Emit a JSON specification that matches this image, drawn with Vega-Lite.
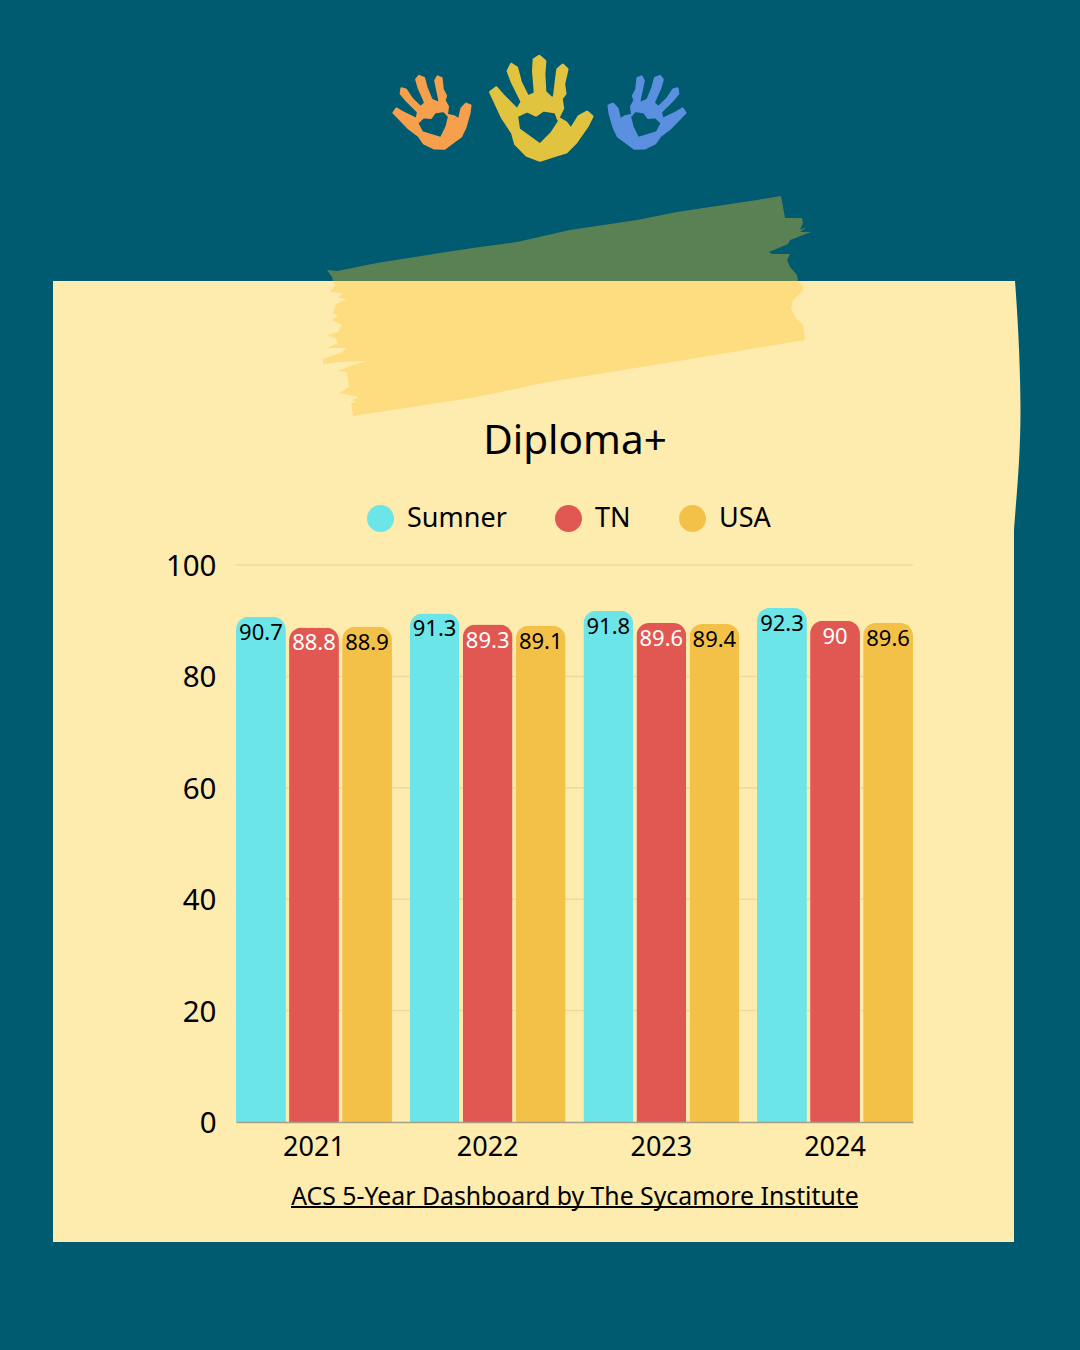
{
  "$schema": "https://vega.github.io/schema/vega-lite/v6.json",
  "width": 677,
  "height": 557,
  "autosize": "none",
  "padding": {"left": 236, "top": 565, "right": 167, "bottom": 228},
  "background": "#005B70",
  "config": {
    "font": "Noto Sans",
    "view": {"stroke": null}
  },
  "datasets": {
    "rates": [
      {"year": "2021", "area": "Sumner", "rate": 90.7},
      {"year": "2021", "area": "TN", "rate": 88.8},
      {"year": "2021", "area": "USA", "rate": 88.9},
      {"year": "2022", "area": "Sumner", "rate": 91.3},
      {"year": "2022", "area": "TN", "rate": 89.3},
      {"year": "2022", "area": "USA", "rate": 89.1},
      {"year": "2023", "area": "Sumner", "rate": 91.8},
      {"year": "2023", "area": "TN", "rate": 89.6},
      {"year": "2023", "area": "USA", "rate": 89.4},
      {"year": "2024", "area": "Sumner", "rate": 92.3},
      {"year": "2024", "area": "TN", "rate": 90},
      {"year": "2024", "area": "USA", "rate": 89.6}
    ],
    "gridlines": [{"tick": 20}, {"tick": 40}, {"tick": 60}, {"tick": 80}, {"tick": 100}],
    "decor": [
      {"part": "page", "across": 0, "down": 0},
      {"part": "orange hand", "across": 432, "down": 112},
      {"part": "gold hand", "across": 540, "down": 108},
      {"part": "blue hand", "across": 647, "down": 112},
      {"part": "title", "across": 575, "down": 442, "label": "Diploma+"},
      {"part": "source underline", "across": 291, "across_end": 858, "down": 1207}
    ]
  },
  "layer": [
    {
      "data": {"name": "decor"},
      "encoding": {
        "x": {"field": "across", "type": "quantitative", "axis": null, "scale": {"domain": [236, 913], "nice": false, "zero": false}},
        "y": {"field": "down", "type": "quantitative", "axis": null, "scale": {"domain": [565, 1122], "nice": false, "zero": false, "reverse": true}}
      },
      "layer": [
        {
          "transform": [{"filter": "datum.part === 'page'"}],
          "mark": {
            "type": "point", "filled": true, "opacity": 1, "size": 4, "color": "#FEEBAE",
            "shape": "M53 281L1015 281C1018 320 1020.5 370 1020.5 410C1020.5 460 1016 500 1014 530L1014 1242L53 1242Z"
          }
        },
        {
          "transform": [{"filter": "datum.part === 'page'"}],
          "mark": {
            "type": "point", "filled": true, "opacity": 1, "size": 4, "color": "#5A8154",
            "shape": "M781 196L785 218L802 218L803 223L800 230L807 227L800 232L811 232L790 240L788 244L769 252L772 254L790 254L787 260L790 267L797 275L798 281L333 281L332 277L327 270L337 271L377 263L440 253L473 248L517 242L570 230L637 220L677 212L757 200Z"
          }
        },
        {
          "transform": [{"filter": "datum.part === 'page'"}],
          "mark": {
            "type": "point", "filled": true, "opacity": 1, "size": 4, "color": "#FEDD80",
            "shape": "M798 281L803 285L803 291L793 300L791 308L795 317L803 325L805 340L673 362L543 383L477 397L353 416L351 403L357 402L352 400L359 397L339 393L349 387L347 372L338 371L350 366L367 361L340 362L323 364L323 359L342 352L347 348L327 348L338 343L335 338L327 335L338 332L342 325L332 320L338 316L333 313L336 304L347 299L338 298L343 293L330 292L335 285L333 281Z"
          }
        },
        {
          "transform": [{"filter": "datum.part === 'orange hand'"}],
          "mark": {
            "type": "point", "filled": true, "opacity": 1, "size": 2.1, "angle": 341, "color": "#F6A04D", "stroke": "#F6A04D", "strokeWidth": 2, "strokeJoin": "round",
            "shape": "M-50.7 -16.3L-45 -20.7L-38.3 -13L-23.3 2L-18.3 -6.3L-28.3 -26.3L-32.7 -38L-29.3 -44.7L-24 -41.3L-20 -26.3L-13.3 -13L-16.7 -9.7L-5 -14.7L-5 -18L-6.7 -38L-6 -49.7L-0.7 -53L5 -48L4 -34.7L5 -16.3L13.3 -8.7L15 -13L16.7 -28L18.3 -39.7L23.3 -44L27.7 -39.7L24.3 -24.7L25.7 -14.7L21.7 -9.7L23.3 0.3L18.3 10.3L26.7 15.3L31.7 22L40 8.7L48.3 4.3L53.3 8.7L48.3 18.7L36.7 35.3L26.7 45.3L13.3 49.3L0 53.7L-13.3 48.7L-25 37L-28.3 25.3L-38.3 10.3ZM0 38L12 26L20 13.7L16 4L3.3 2L-4 7.3L-13.3 3L-24 8L-22 22Z"
          }
        },
        {
          "transform": [{"filter": "datum.part === 'gold hand'"}],
          "mark": {
            "type": "point", "filled": true, "opacity": 1, "size": 3.8, "color": "#E1C33F", "stroke": "#E1C33F", "strokeWidth": 3, "strokeJoin": "round",
            "shape": "M-50.7 -16.3L-45 -20.7L-38.3 -13L-23.3 2L-18.3 -6.3L-28.3 -26.3L-32.7 -38L-29.3 -44.7L-24 -41.3L-20 -26.3L-13.3 -13L-16.7 -9.7L-5 -14.7L-5 -18L-6.7 -38L-6 -49.7L-0.7 -53L5 -48L4 -34.7L5 -16.3L13.3 -8.7L15 -13L16.7 -28L18.3 -39.7L23.3 -44L27.7 -39.7L24.3 -24.7L25.7 -14.7L21.7 -9.7L23.3 0.3L18.3 10.3L26.7 15.3L31.7 22L40 8.7L48.3 4.3L53.3 8.7L48.3 18.7L36.7 35.3L26.7 45.3L13.3 49.3L0 53.7L-13.3 48.7L-25 37L-28.3 25.3L-38.3 10.3ZM0 38L12 26L20 13.7L16 4L3.3 2L-4 7.3L-13.3 3L-24 8L-22 22Z"
          }
        },
        {
          "transform": [{"filter": "datum.part === 'blue hand'"}],
          "mark": {
            "type": "point", "filled": true, "opacity": 1, "size": 2.1, "angle": 19, "color": "#5B8FE0", "stroke": "#5B8FE0", "strokeWidth": 2, "strokeJoin": "round",
            "shape": "M50.7 -16.3L45 -20.7L38.3 -13L23.3 2L18.3 -6.3L28.3 -26.3L32.7 -38L29.3 -44.7L24 -41.3L20 -26.3L13.3 -13L16.7 -9.7L5 -14.7L5 -18L6.7 -38L6 -49.7L0.7 -53L-5 -48L-4 -34.7L-5 -16.3L-13.3 -8.7L-15 -13L-16.7 -28L-18.3 -39.7L-23.3 -44L-27.7 -39.7L-24.3 -24.7L-25.7 -14.7L-21.7 -9.7L-23.3 0.3L-18.3 10.3L-26.7 15.3L-31.7 22L-40 8.7L-48.3 4.3L-53.3 8.7L-48.3 18.7L-36.7 35.3L-26.7 45.3L-13.3 49.3L0 53.7L13.3 48.7L25 37L28.3 25.3L38.3 10.3ZM0 38L-12 26L-20 13.7L-16 4L-3.3 2L4 7.3L13.3 3L24 8L22 22Z"
          }
        },
        {
          "transform": [{"filter": "datum.part === 'title'"}],
          "mark": {"type": "text", "font": "Noto Sans", "fontSize": 40.5, "color": "#000000", "align": "center", "baseline": "middle"},
          "encoding": {"text": {"field": "label", "type": "nominal"}}
        },
        {
          "transform": [{"filter": "datum.part === 'source underline'"}],
          "mark": {"type": "rule", "color": "#000000", "strokeWidth": 2},
          "encoding": {"x2": {"field": "across_end"}}
        }
      ]
    },
    {
      "layer": [
        {
          "data": {"name": "gridlines"},
          "mark": {"type": "rule", "color": "#EADBA2", "strokeWidth": 1.5},
          "encoding": {
            "y": {
              "field": "tick",
              "type": "quantitative",
              "scale": {"domain": [0, 100], "nice": false},
              "axis": {"title": null, "grid": false, "ticks": false, "domain": false, "tickCount": 6, "labelFont": "Noto Sans", "labelFontSize": 29.5, "labelPadding": 20, "labelOffset": 1.5, "labelColor": "#000000", "zindex": 1}
            }
          }
        },
        {
          "data": {"name": "rates"},
          "encoding": {
            "x": {
              "field": "year",
              "type": "nominal",
              "scale": {"paddingInner": 0.102, "paddingOuter": 0},
              "axis": {
                "title": "ACS 5-Year Dashboard by The Sycamore Institute",
                "titleFont": "Noto Sans", "titleFontSize": 24.8, "titleFontWeight": "normal", "titleColor": "#000000", "titlePadding": 24,
                "grid": false, "ticks": false, "labelAngle": 0, "labelFont": "Noto Sans", "labelFontSize": 27, "labelPadding": 12, "labelColor": "#000000",
                "domainColor": "#A89F88", "domainWidth": 1.5, "zindex": 1
              }
            },
            "xOffset": {
              "field": "area",
              "type": "nominal",
              "sort": ["Sumner", "TN", "USA"],
              "scale": {"paddingInner": 0.06, "paddingOuter": 0}
            },
            "y": {"field": "rate", "type": "quantitative", "scale": {"domain": [0, 100], "nice": false}, "axis": {"title": null, "grid": false, "ticks": false, "domain": false, "tickCount": 6, "labelFont": "Noto Sans", "labelFontSize": 29.5, "labelPadding": 20, "labelOffset": 1.5, "labelColor": "#000000", "zindex": 1}}
          },
          "layer": [
            {
              "mark": {"type": "bar", "cornerRadiusTopLeft": 13, "cornerRadiusTopRight": 13},
              "encoding": {
                "color": {
                  "field": "area",
                  "type": "nominal",
                  "scale": {"domain": ["Sumner", "TN", "USA"], "range": ["#6CE5E8", "#E15852", "#F4C148"]},
                  "legend": {
                    "title": null,
                    "orient": "none",
                    "direction": "horizontal",
                    "legendX": 131,
                    "legendY": -60,
                    "symbolType": "circle",
                    "symbolSize": 729,
                    "symbolStrokeWidth": 0,
                    "symbolOpacity": 1,
                    "labelFont": "Noto Sans",
                    "labelFontSize": 27,
                    "labelColor": "#000000",
                    "labelOffset": 13,
                    "columnPadding": 48
                  }
                }
              }
            },
            {
              "mark": {"type": "text", "font": "Noto Sans", "fontSize": 22, "baseline": "middle", "dy": 16},
              "encoding": {
                "text": {"field": "rate", "type": "quantitative"},
                "color": {"condition": {"test": "datum.area === 'TN'", "value": "#FFFFFF"}, "value": "#000000"}
              }
            }
          ]
        }
      ]
    }
  ],
  "resolve": {"scale": {"x": "independent", "y": "independent"}}
}
